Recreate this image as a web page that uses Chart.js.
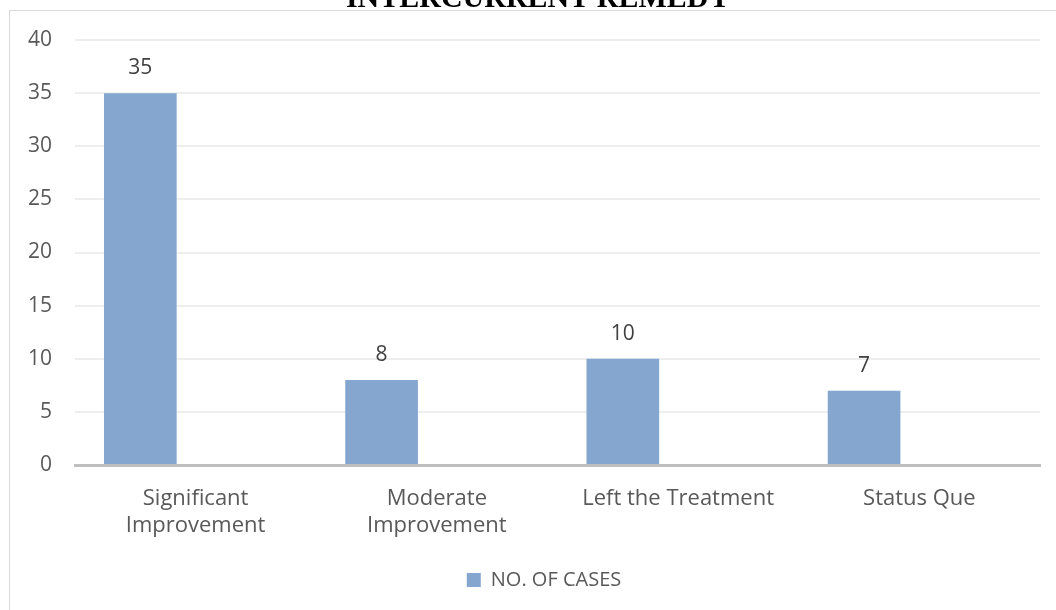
<!DOCTYPE html>
<html>
<head>
<meta charset="utf-8">
<script src="https://cdn.jsdelivr.net/npm/chart.js@4/dist/chart.umd.min.js"></script>
<style>
    html, body { margin: 0; padding: 0; background: #fff; overflow: hidden; }
    #wrap { position: relative; width: 1056px; height: 610px; overflow: hidden; }
    #frame { position: absolute; left: 9px; top: 10px; width: 1100px; height: 700px; border: 1px solid #d9d9d9; box-sizing: border-box; }
    #chart { position: absolute; left: 0; top: 0; }
</style>
</head>
<body>
<div id="wrap">
    <div id="frame"></div>
    <canvas id="chart" width="1056" height="610"></canvas>
</div>
<script>
// chart data
const categories = [['Significant', 'Improvement'], ['Moderate', 'Improvement'], 'Left the Treatment', 'Status Que'];
const seriesName = 'NO. OF CASES';
const cases = [35, 8, 10, 7];
const emptySeries = [null, null, null, null];
const yTicks = [0, 5, 10, 15, 20, 25, 30, 35, 40];
const chartTitle = 'INTERCURRENT REMEDY';

const FONT = '"Open Sans", sans-serif';

// title sits half outside the frame, drawn by hand
const titlePlugin = {
    id: 'cutTitle',
    afterDraw(chart) {
        const c = chart.ctx;
        c.save();
        c.font = 'bold 30px "Liberation Serif", "Times New Roman", serif';
        c.fillStyle = '#000';
        c.textAlign = 'center';
        c.textBaseline = 'alphabetic';
        c.fillText(chartTitle, 538, 7);
        c.restore();
    }
};

// value labels above bars
const valueLabels = {
    id: 'valueLabels',
    afterDatasetsDraw(chart) {
        const c = chart.ctx;
        const meta = chart.getDatasetMeta(0);
        c.save();
        c.font = '21px ' + FONT;
        c.fillStyle = '#404040';
        c.textAlign = 'center';
        c.textBaseline = 'middle';
        meta.data.forEach((bar, i) => {
            c.fillText(cases[i], bar.x, bar.y - 25);
        });
        c.restore();
    }
};

// legend in the original is centred under the plot, not the whole canvas
const legendShift = {
    id: 'legendShift',
    afterLayout(chart) {
        chart.legend.left += 48;
    }
};

new Chart(document.getElementById('chart'), {
    type: 'bar',
    data: {
        labels: categories,
        datasets: [
            { label: seriesName, data: cases, backgroundColor: '#84a6cf', categoryPercentage: 0.917, barPercentage: 0.657 },
            { label: '', data: emptySeries, backgroundColor: '#84a6cf', categoryPercentage: 0.917, barPercentage: 0.657 }
        ]
    },
    options: {
        responsive: false,
        animation: false,
        devicePixelRatio: 1,
        layout: { padding: { top: 40, right: 16, bottom: 10, left: 0 } },
        plugins: {
            legend: {
                position: 'bottom',
                labels: {
                    filter: item => item.datasetIndex === 0,
                    boxWidth: 14,
                    boxHeight: 14,
                    padding: 10,
                    color: '#595959',
                    font: { family: FONT, size: 20 }
                }
            },
            tooltip: { enabled: false },
            title: { display: false }
        },
        scales: {
            x: {
                grid: { display: false },
                border: { color: '#bfbfbf', width: 3 },
                ticks: {
                    color: '#595959',
                    font: { family: FONT, size: 22, lineHeight: 1.23 },
                    padding: 12,
                    maxRotation: 0
                },
                afterFit(scale) { scale.height = 95; }
            },
            y: {
                min: 0,
                max: 40,
                afterBuildTicks(scale) { scale.ticks = yTicks.map(v => ({ value: v })); },
                grid: { color: '#eeeeee', lineWidth: 2, drawTicks: false },
                border: { display: false },
                ticks: {
                    color: '#595959',
                    font: { family: FONT, size: 21 },
                    padding: 23
                },
                afterFit(scale) { scale.width = 75; }
            }
        }
    },
    plugins: [titlePlugin, valueLabels, legendShift]
});
</script>
</body>
</html>
